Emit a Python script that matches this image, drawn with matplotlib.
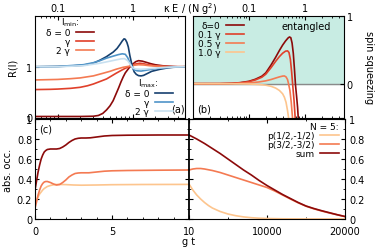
import matplotlib
matplotlib.use("Agg")
import matplotlib.pyplot as plt
import numpy as np
from matplotlib.ticker import MultipleLocator, FixedLocator

plt.rcParams['font.family'] = ['DejaVu Sans']
plt.rcParams['font.size'] = 7
plt.rcParams['mathtext.default'] = 'regular'

# ---------- panel (a): R(l) vs kappa E/(N g^2) ----------
xa_min0 = [0.05, 0.1, 0.2, 0.3, 0.35, 0.4, 0.45, 0.5, 0.55, 0.6, 0.65, 0.7, 0.75, 0.8, 0.9, 1.0, 1.1, 1.2, 1.35, 1.5, 1.75, 2.0, 2.5, 3.0, 4.0, 5.0]
ya_min0 = [0.02, 0.02, 0.02, 0.025, 0.04, 0.08, 0.15, 0.23, 0.33, 0.46, 0.58, 0.70, 0.80, 0.88, 0.98, 1.05, 1.10, 1.12, 1.11, 1.09, 1.06, 1.04, 1.02, 1.01, 1.0, 1.0]
xa_min1 = [0.05, 0.08, 0.1, 0.15, 0.2, 0.25, 0.3, 0.368, 0.45, 0.5, 0.6, 0.7, 0.8, 0.9, 1.0, 1.1, 1.25, 1.4, 1.6, 2.0, 2.5, 3.5, 5.0]
ya_min1 = [0.55, 0.555, 0.56, 0.575, 0.595, 0.625, 0.66, 0.71, 0.76, 0.80, 0.87, 0.925, 0.97, 1.0, 1.03, 1.055, 1.07, 1.06, 1.04, 1.02, 1.01, 1.0, 1.0]
xa_min2 = [0.05, 0.1, 0.15, 0.2, 0.3, 0.4, 0.5, 0.6, 0.75, 0.9, 1.0, 1.2, 1.4, 1.7, 2.2, 3.0, 5.0]
ya_min2 = [0.74, 0.75, 0.765, 0.78, 0.82, 0.87, 0.91, 0.95, 0.99, 1.01, 1.025, 1.04, 1.035, 1.02, 1.01, 1.0, 1.0]
xa_max0 = [0.05, 0.1, 0.15, 0.22, 0.3, 0.368, 0.45, 0.553, 0.62, 0.679, 0.73, 0.77, 0.8, 0.84, 0.877, 0.92, 0.973, 1.0, 1.05, 1.12, 1.2, 1.3, 1.4, 1.54, 1.8, 2.32, 3.0, 3.49, 5.0]
ya_max0 = [1.0, 1.005, 1.015, 1.03, 1.07, 1.13, 1.2, 1.29, 1.36, 1.44, 1.51, 1.55, 1.54, 1.48, 1.39, 1.22, 1.06, 0.99, 0.9, 0.85, 0.825, 0.82, 0.83, 0.86, 0.91, 0.95, 0.98, 0.99, 1.0]
xa_max1 = [0.05, 0.1, 0.22, 0.3, 0.368, 0.45, 0.553, 0.65, 0.73, 0.8, 0.86, 0.92, 0.973, 1.05, 1.15, 1.3, 1.5, 1.8, 2.4, 3.5, 5.0]
ya_max1 = [1.0, 1.005, 1.04, 1.08, 1.12, 1.17, 1.21, 1.24, 1.255, 1.245, 1.18, 1.08, 1.0, 0.94, 0.92, 0.915, 0.93, 0.95, 0.975, 0.995, 1.0]
xa_max2 = [0.05, 0.1, 0.22, 0.368, 0.5, 0.6, 0.7, 0.78, 0.86, 0.93, 1.0, 1.1, 1.3, 1.6, 2.3, 3.5, 5.0]
ya_max2 = [1.0, 1.0, 1.02, 1.07, 1.11, 1.135, 1.155, 1.16, 1.12, 1.05, 0.98, 0.955, 0.95, 0.96, 0.98, 0.995, 1.0]

# ---------- panel (b): spin squeezing ----------
xb0 = [0.01, 0.03, 0.05, 0.07, 0.1, 0.13, 0.17, 0.2, 0.25, 0.3, 0.35, 0.4, 0.45, 0.5, 0.53, 0.56, 0.59, 0.62, 0.65, 0.68, 0.71, 0.74, 0.76]
yb0 = [0.0, 0.0, 0.005, 0.015, 0.035, 0.065, 0.11, 0.16, 0.28, 0.39, 0.49, 0.57, 0.63, 0.675, 0.69, 0.68, 0.60, 0.45, 0.22, -0.05, -0.37, -0.7, -1.0]
xb1 = [0.01, 0.03, 0.05, 0.07, 0.1, 0.13, 0.17, 0.2, 0.25, 0.3, 0.35, 0.4, 0.45, 0.49, 0.52, 0.55, 0.58, 0.61, 0.64, 0.67]
yb1 = [0.0, 0.0, 0.004, 0.013, 0.03, 0.055, 0.095, 0.14, 0.24, 0.33, 0.40, 0.45, 0.48, 0.485, 0.46, 0.36, 0.17, -0.1, -0.5, -1.0]
xb2 = [0.01, 0.05, 0.1, 0.15, 0.2, 0.25, 0.3, 0.35, 0.4, 0.43, 0.46, 0.49, 0.51, 0.54, 0.57, 0.6]
yb2 = [0.0, 0.002, 0.012, 0.025, 0.042, 0.062, 0.083, 0.1, 0.112, 0.114, 0.1, 0.06, 0.0, -0.2, -0.55, -1.0]
xb3 = [0.01, 0.05, 0.1, 0.15, 0.2, 0.25, 0.3, 0.35, 0.4, 0.43, 0.46, 0.49, 0.51]
yb3 = [0.0, -0.003, -0.01, -0.025, -0.045, -0.08, -0.13, -0.2, -0.3, -0.4, -0.55, -0.8, -1.0]

# ---------- panel (c): absolute occupations ----------
tc_sum = [0, 0.1, 0.2, 0.3, 0.4, 0.5, 0.6, 0.7, 0.8, 1.0, 1.2, 1.4, 1.6, 1.8, 2.0, 2.2, 2.4, 2.6, 2.8, 3.0, 3.3, 3.6, 4.0, 4.5, 5.0, 6.0, 8.0, 10.0]
sum_c = [0.29, 0.38, 0.47, 0.54, 0.60, 0.64, 0.67, 0.685, 0.695, 0.70, 0.70, 0.70, 0.705, 0.72, 0.74, 0.765, 0.785, 0.80, 0.807, 0.81, 0.81, 0.812, 0.82, 0.83, 0.835, 0.838, 0.84, 0.84]
tc_p32 = [0, 0.1, 0.2, 0.3, 0.4, 0.5, 0.6, 0.7, 0.8, 1.0, 1.2, 1.4, 1.6, 1.8, 2.0, 2.2, 2.4, 2.6, 2.8, 3.0, 3.5, 4.0, 4.5, 5.0, 6.0, 8.0, 10.0]
p32_c = [0.11, 0.17, 0.24, 0.29, 0.33, 0.355, 0.37, 0.375, 0.375, 0.365, 0.35, 0.34, 0.345, 0.365, 0.39, 0.42, 0.44, 0.455, 0.46, 0.462, 0.462, 0.47, 0.478, 0.482, 0.485, 0.488, 0.49]
tc_p12 = [0, 0.1, 0.2, 0.3, 0.4, 0.5, 0.6, 0.8, 1.0, 1.2, 1.5, 2.0, 2.5, 3.0, 4.0, 5.0, 7.0, 10.0]
p12_c = [0.16, 0.19, 0.22, 0.25, 0.27, 0.29, 0.305, 0.325, 0.335, 0.342, 0.346, 0.344, 0.34, 0.338, 0.34, 0.343, 0.345, 0.346]

tl_sum = [10, 1000, 2000, 3000, 4000, 5000, 6000, 7000, 8000, 9000, 10000, 11000, 12000, 13000, 14000, 15000, 16000, 17000, 18000, 19000, 20000]
sum_l = [0.84, 0.80, 0.755, 0.705, 0.655, 0.60, 0.545, 0.49, 0.44, 0.385, 0.335, 0.29, 0.245, 0.205, 0.165, 0.13, 0.105, 0.083, 0.063, 0.043, 0.025]
tl_p32 = [10, 500, 1000, 1500, 2000, 3000, 4000, 5000, 6000, 7000, 8000, 9000, 10000, 11000, 12000, 13000, 14000, 15000, 16000, 17000, 18000, 19000, 20000]
p32_l = [0.49, 0.50, 0.505, 0.505, 0.50, 0.485, 0.465, 0.44, 0.415, 0.39, 0.365, 0.34, 0.315, 0.28, 0.24, 0.20, 0.162, 0.128, 0.102, 0.08, 0.06, 0.042, 0.024]
tl_p12 = [10, 500, 1000, 1500, 2000, 2500, 3000, 4000, 5000, 6000, 7000, 8000, 9000, 10000, 12000, 14000, 20000]
p12_l = [0.35, 0.29, 0.24, 0.20, 0.165, 0.135, 0.11, 0.075, 0.05, 0.033, 0.021, 0.013, 0.008, 0.005, 0.002, 0.001, 0.0]

red_dark = '#8c0a0a'
red_mid = '#e0402a'
red_or = '#f47a52'
red_light = '#fdc58e'
blue_dark = '#16406f'
blue_mid = '#4f94c8'
blue_light = '#c8e0f0'

W, H = 378, 251
fig = plt.figure(figsize=(W / 100, H / 100), dpi=100)

def ax_px(l, t, r, b):
    return fig.add_axes([l / W, (H - b) / H, (r - l) / W, (b - t) / H])

lw = 1.2
legkw = dict(markerfirst=False, frameon=False, fontsize=6.5, title_fontsize=6.5,
             labelspacing=0.0, handlelength=2.0, handletextpad=0.6,
             borderpad=0.2, borderaxespad=0.0)

# ---- (a)
axa = ax_px(35, 17, 185, 118.5)
axa.set_xscale('log')
axa.set_xlim(0.05, 5)
axa.set_ylim(0, 2)
la1, = axa.plot(xa_min0, ya_min0, color=red_dark, lw=lw)
la2, = axa.plot(xa_min1, ya_min1, color=red_mid, lw=lw)
la3, = axa.plot(xa_min2, ya_min2, color=red_or, lw=lw)
lb1, = axa.plot(xa_max0, ya_max0, color=blue_dark, lw=lw)
lb2, = axa.plot(xa_max1, ya_max1, color=blue_mid, lw=lw)
lb3, = axa.plot(xa_max2, ya_max2, color=blue_light, lw=lw)
axa.set_yticks([0, 1])
axa.set_yticklabels(['0', '1'])
axa.tick_params(which='both', direction='in', top=True, bottom=True, labeltop=True,
                labelbottom=False, right=False, pad=2, length=3)
axa.tick_params(which='minor', length=1.5)
axa.set_xticks([0.1, 1])
axa.set_xticklabels(['0.1', '1'])
axa.set_ylabel('R(l)', labelpad=6)
leg1 = axa.legend([la1, la2, la3], ['δ = 0', 'γ', '2 γ'], title='$l_{min}$:',
                  loc='upper left', bbox_to_anchor=(0.06, 1.02), **legkw)
leg1._legend_box.sep = 0
axa.add_artist(leg1)
leg2 = axa.legend([lb1, lb2, lb3], ['δ = 0', 'γ', '2 γ'], title='$l_{max}$:',
                  loc='lower right', bbox_to_anchor=(0.93, 0.0), **legkw)
leg2._legend_box.sep = 0
axa.text(0.995, 0.09, '(a)', transform=axa.transAxes, ha='right', va='center', fontsize=7)

# ---- (b)
axb = ax_px(193, 17, 344, 118.5)
axb.set_xscale('log')
axb.set_xlim(0.01, 5)

def fwd(y):
    y = np.asarray(y, dtype=float)
    return np.where(y < 0, 0.5 * y, y)

def inv(y):
    y = np.asarray(y, dtype=float)
    return np.where(y < 0, 2.0 * y, y)

axb.set_yscale('function', functions=(fwd, inv))
axb.set_ylim(-1, 1)
axb.axhspan(0, 1, color='#c8ece3', zorder=0)
axb.axhline(0, color='#8a8a8a', lw=1.0, zorder=1)
lc1, = axb.plot(xb0, yb0, color=red_dark, lw=lw)
lc2, = axb.plot(xb1, yb1, color=red_mid, lw=lw)
lc3, = axb.plot(xb2, yb2, color=red_or, lw=lw)
lc4, = axb.plot(xb3, yb3, color=red_light, lw=lw)
axb.set_yticks([-1, 0, 1])
# the bottom "1" coincides with the top "1" of the panel below
axb.set_yticklabels(['', '0', '1'])
axb.yaxis.set_minor_locator(FixedLocator([]))
axb.yaxis.tick_right()
axb.yaxis.set_label_position('right')
axb.set_ylabel('spin squeezing', rotation=270, labelpad=15)
axb.set_xticks([0.1, 1])
axb.set_xticklabels(['0.1', '1'])
axb.tick_params(which='both', direction='in', top=True, bottom=True, labeltop=True,
                labelbottom=False, left=False, right=True, pad=2, length=3)
axb.tick_params(which='minor', length=1.5)
axb.legend([lc1, lc2, lc3, lc4], ['δ=0', '0.1 γ', '0.5 γ', '1.0 γ'],
           loc='upper left', bbox_to_anchor=(0.02, 0.97), **legkw)
axb.text(0.75, 0.9, 'entangled', transform=axb.transAxes, ha='center', va='center', fontsize=7)
axb.text(0.03, 0.09, '(b)', transform=axb.transAxes, ha='left', va='center', fontsize=7)

fig.text(190 / W, 1 - 9 / H, 'κ E / (N g$^2$)', ha='center', va='center', fontsize=7)

# ---- (c) left
axc = ax_px(35, 120, 189, 220)
axc.set_xlim(0, 10)
axc.set_ylim(0, 1)
axc.plot(tc_p12, p12_c, color=red_light, lw=lw)
axc.plot(tc_p32, p32_c, color=red_or, lw=lw)
axc.plot(tc_sum, sum_c, color=red_dark, lw=lw)
axc.set_xticks([0, 5])
axc.xaxis.set_minor_locator(MultipleLocator(1))
axc.set_yticks([0, 0.2, 0.4, 0.6, 0.8, 1.0])
axc.set_yticklabels(['0', '0.2', '0.4', '0.6', '0.8', '1'])
axc.yaxis.set_minor_locator(MultipleLocator(0.1))
axc.tick_params(which='both', direction='in', top=True, bottom=True, right=True, length=3)
axc.tick_params(axis='x', pad=5)
axc.tick_params(axis='y', pad=2)
axc.tick_params(which='minor', length=1.5)
axc.set_ylabel('abs. occ.', labelpad=3)
axc.text(0.03, 0.9, '(c)', transform=axc.transAxes, ha='left', va='center', fontsize=7)

# ---- (c) right
axd = ax_px(189, 120, 345, 220)
axd.set_xlim(10, 20000)
axd.set_ylim(0, 1)
lp1, = axd.plot(tl_p12, p12_l, color=red_light, lw=lw)
lp2, = axd.plot(tl_p32, p32_l, color=red_or, lw=lw)
lp3, = axd.plot(tl_sum, sum_l, color=red_dark, lw=lw)
axd.set_xticks([10, 10000, 20000])
axd.xaxis.set_minor_locator(FixedLocator([5000, 15000]))
axd.set_yticks([0, 0.2, 0.4, 0.6, 0.8, 1.0])
axd.set_yticklabels(['0', '0.2', '0.4', '0.6', '0.8', '1'])
axd.yaxis.set_minor_locator(MultipleLocator(0.1))
axd.yaxis.tick_right()
axd.tick_params(which='both', direction='in', top=True, bottom=True, left=True, right=True,
                length=3)
axd.tick_params(axis='x', pad=5)
axd.tick_params(axis='y', pad=3)
axd.tick_params(which='minor', length=1.5)
axd.spines['left'].set_linewidth(1.3)
axd.legend([lp1, lp2, lp3], ['p(1/2,-1/2)', 'p(3/2,-3/2)', 'sum'], title='N = 5:',
           loc='upper right', alignment='right', bbox_to_anchor=(0.97, 0.99), **legkw)

fig.text(189 / W, 1 - 242 / H, 'g t', ha='center', va='center', fontsize=7)

fig.savefig('out.png', dpi=100)
